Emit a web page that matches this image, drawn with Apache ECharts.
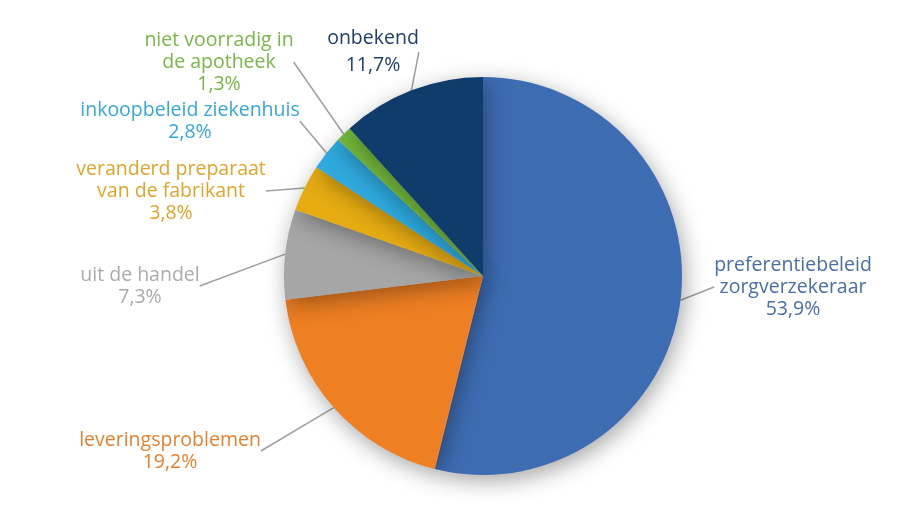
<!DOCTYPE html>
<html>
<head>
<meta charset="utf-8">
<script src="https://cdn.jsdelivr.net/npm/echarts@6/dist/echarts.min.js"></script>
<style>
  html, body { margin: 0; padding: 0; background: #fff; }
  #chart { width: 910px; height: 510px; }
</style>
</head>
<body>
<div id="chart"></div>
<script>
  // oorzaken, met de klok mee vanaf 12 uur
  var labels = [
    'preferentiebeleid\nzorgverzekeraar',
    'leveringsproblemen',
    'uit de handel',
    'veranderd preparaat\nvan de fabrikant',
    'inkoopbeleid ziekenhuis',
    'niet voorradig in\nde apotheek',
    'onbekend'
  ];
  var values = [53.9, 19.2, 7.3, 3.8, 2.8, 1.3, 11.7];
  var sliceColors = ['#3E6CB3', '#EE7F23', '#A6A6A6', '#E6AC12', '#2FA9DE', '#72B63A', '#0F3C6A'];
  var textColors = ['#4A6EA8', '#E97F2C', '#ABABAB', '#E0A52A', '#35A8D8', '#7BB648', '#1E3F6A'];

  // label centre positions (layout only)
  var labelPos = [
    [793, 287], [170, 451], [140, 286], [171, 191], [190, 121], [219, 62], [373, 52]
  ];

  var chart = echarts.init(document.getElementById('chart'));
  var data = values.map(function (v, i) {
    return {
      name: labels[i],
      value: v,
      itemStyle: { color: sliceColors[i] },
      label: { color: textColors[i], lineHeight: i === 6 ? 27 : 22 }
    };
  });

  var option = {
    backgroundColor: '#ffffff',
    animation: false,
    series: [{
      type: 'pie',
      center: [483, 276],
      radius: [0, 199],
      startAngle: 90,
      clockwise: true,
      data: data,
      itemStyle: {
        shadowBlur: 22,
        shadowColor: 'rgba(0,0,0,0.35)',
        shadowOffsetX: 3,
        shadowOffsetY: 6
      },
      label: {
        show: true,
        position: 'outside',
        fontFamily: 'Open Sans',
        fontSize: 19.5,
        align: 'center',
        formatter: function (p) {
          return p.name + '\n' + p.value.toFixed(1).replace('.', ',') + '%';
        }
      },
      labelLine: {
        show: true,
        length: 0,
        length2: 0,
        lineStyle: { color: '#A0A0A0', width: 1.5 }
      },
      labelLayout: function (params) {
        var pos = labelPos[params.dataIndex];
        return { x: pos[0], y: pos[1], align: 'center', verticalAlign: 'middle' };
      }
    }]
  };
  chart.setOption(option);
</script>
</body>
</html>
